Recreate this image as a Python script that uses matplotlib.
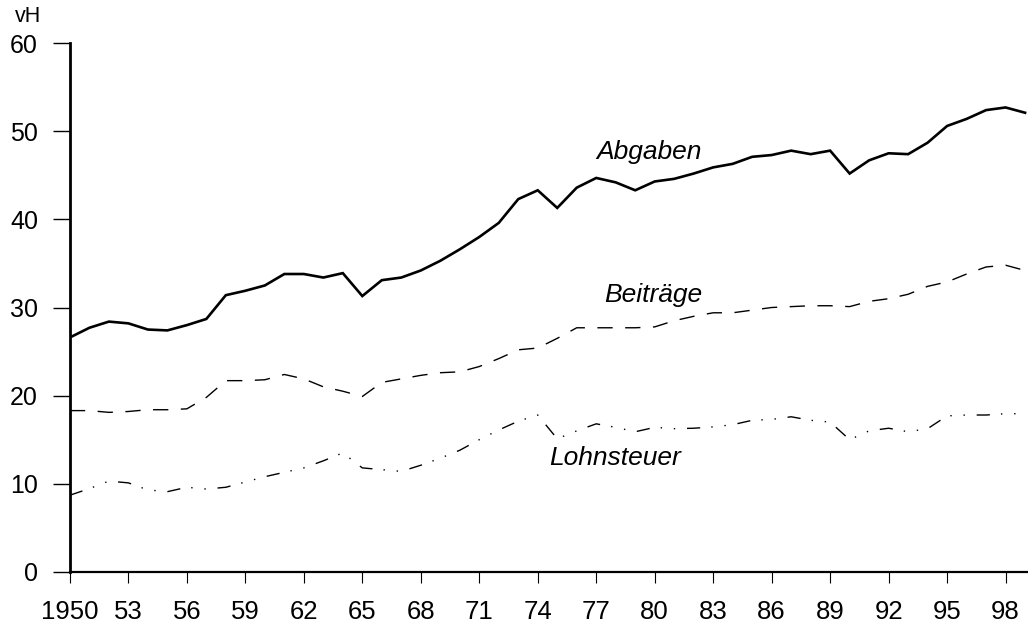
import matplotlib.pyplot as plt

plt.rcParams['font.family'] = ['Liberation Sans', 'DejaVu Sans']

years = list(range(1950, 2000))

abgaben = [26.6, 27.7, 28.4, 28.2, 27.5, 27.4, 28.0, 28.7, 31.4, 31.9,
           32.5, 33.8, 33.8, 33.4, 33.9, 31.3, 33.1, 33.4, 34.2, 35.3,
           36.6, 38.0, 39.6, 42.3, 43.3, 41.3, 43.6, 44.7, 44.2, 43.3,
           44.3, 44.6, 45.2, 45.9, 46.3, 47.1, 47.3, 47.8, 47.4, 47.8,
           45.2, 46.7, 47.5, 47.4, 48.7, 50.6, 51.4, 52.4, 52.7, 52.1]

beitraege = [18.3, 18.3, 18.1, 18.2, 18.4, 18.4, 18.5, 19.8, 21.7, 21.7,
             21.8, 22.4, 21.9, 21.0, 20.5, 19.9, 21.5, 21.9, 22.3, 22.6,
             22.7, 23.3, 24.2, 25.2, 25.4, 26.5, 27.7, 27.7, 27.7, 27.7,
             27.8, 28.5, 29.0, 29.4, 29.4, 29.7, 30.0, 30.1, 30.2, 30.2,
             30.1, 30.7, 31.0, 31.5, 32.4, 32.9, 33.8, 34.6, 34.8, 34.2]

lohnsteuer = [8.7, 9.45, 10.3, 10.1, 9.3, 9.1, 9.6, 9.4, 9.6, 10.2,
              10.8, 11.3, 11.8, 12.6, 13.5, 11.8, 11.6, 11.4, 12.1, 12.9,
              13.8, 15.0, 16.1, 17.1, 17.8, 15.1, 16.0, 16.8, 16.4, 15.9,
              16.4, 16.25, 16.3, 16.45, 16.7, 17.2, 17.3, 17.6, 17.2, 17.0,
              15.0, 16.0, 16.3, 15.9, 16.25, 17.7, 17.8, 17.8, 17.95, 17.95]

xticks = list(range(1950, 1999, 3))
xticklabels = ['1950'] + [str(y)[2:] for y in xticks[1:]]
yticks = [0, 10, 20, 30, 40, 50, 60]

fig = plt.figure(figsize=(10.28, 6.25), dpi=100)
ax = fig.add_axes([0.068, 0.085, 0.932, 0.846])

ax.plot(years, abgaben, color='black', lw=1.9, solid_joinstyle='miter')
ax.plot(years, beitraege, color='black', lw=1.0, dashes=(11, 9))
ax.plot(years, lohnsteuer, color='black', lw=1.0, dashes=(9.5, 8, 1, 8.5, 1, 8.5))

ax.set_xlim(1950, 1999.15)
ax.set_ylim(0, 60)
ax.set_xticks(xticks)
ax.set_xticklabels(xticklabels)
ax.set_yticks(yticks)

for s in ['top', 'right']:
    ax.spines[s].set_visible(False)
ax.spines['left'].set_linewidth(2.0)
ax.spines['bottom'].set_linewidth(1.6)
ax.spines['left'].set_bounds(0, 60)

ax.tick_params(axis='y', direction='out', length=12, width=1.0, labelsize=18, pad=11)
ax.tick_params(axis='x', direction='out', length=8, width=0.8, labelsize=18.5, pad=12)

ax.text(1979.7, 47.6, 'Abgaben', fontsize=19, style='italic', ha='center', va='center')
ax.text(1979.95, 31.4, 'Beiträge', fontsize=19, style='italic', ha='center', va='center')
ax.text(1977.96, 12.9, 'Lohnsteuer', fontsize=19, style='italic', ha='center', va='center')

fig.text(28 / 1028, 1 - 16 / 625, 'vH', fontsize=15.5, ha='center', va='center')

fig.savefig('out.png', dpi=100)
